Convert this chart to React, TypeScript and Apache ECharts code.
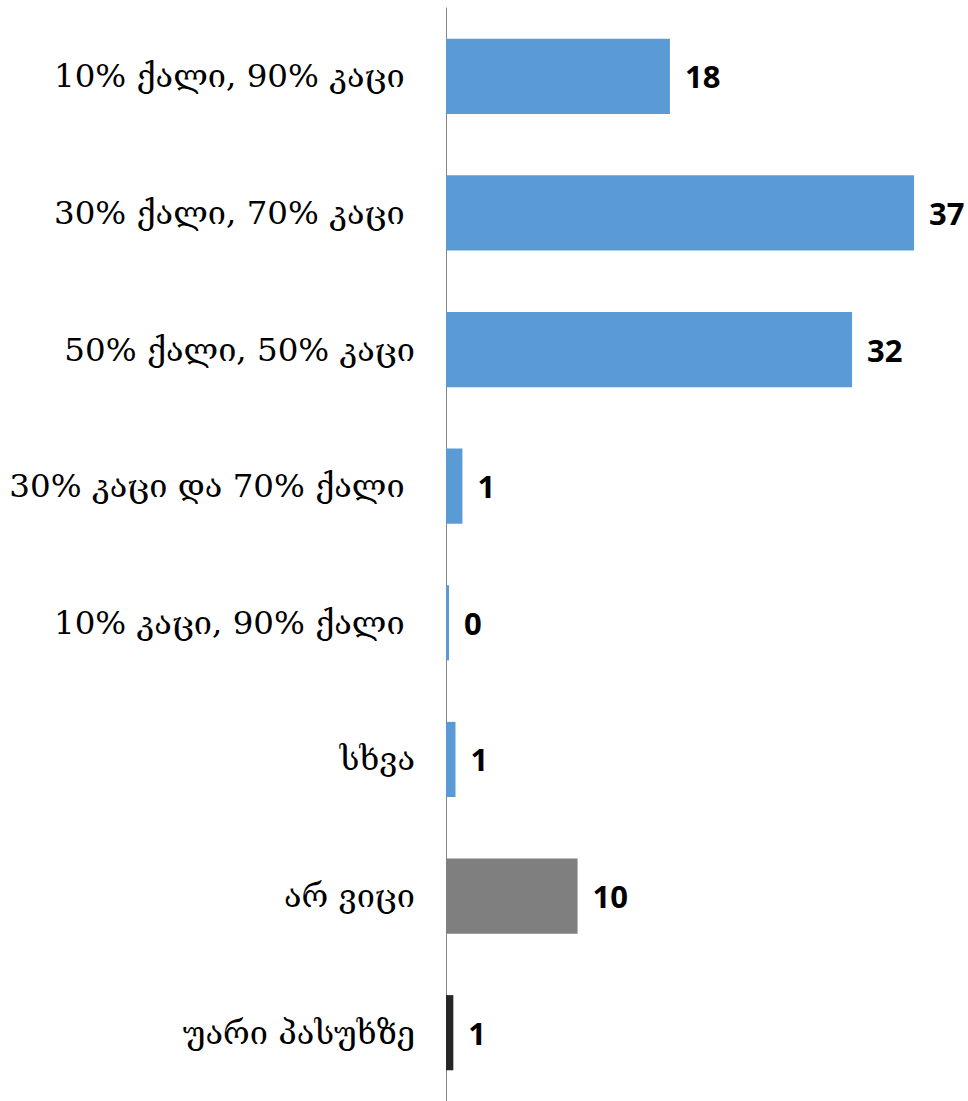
import React, { useEffect, useRef } from "react";
import * as echarts from "echarts";

const categories = [
  "10% ქალი, 90% კაცი ",
  "30% ქალი, 70% კაცი ",
  "50% ქალი, 50% კაცი",
  "30% კაცი და 70% ქალი ",
  "10% კაცი, 90% ქალი ",
  "სხვა",
  "არ ვიცი",
  "უარი პასუხზე",
];
const values = [17.7, 37.0, 32.1, 1.3, 0.24, 0.75, 10.4, 0.58];
const colors = ["#5B9BD5", "#5B9BD5", "#5B9BD5", "#5B9BD5", "#5B9BD5", "#5B9BD5", "#7F7F7F", "#262626"];

export default function App() {
  const ref = useRef<HTMLDivElement>(null);
  useEffect(() => {
    if (!ref.current) return;
    const chart = echarts.init(ref.current, null, { renderer: "svg" });
    chart.setOption({
      animation: false,
      grid: { left: 446, top: 8, width: 506, height: 1098 },
      xAxis: {
        type: "value",
        min: 0,
        max: 40,
        show: false,
      },
      yAxis: {
        type: "category",
        inverse: true,
        data: categories,
        axisLine: { show: true, lineStyle: { color: "#868686", width: 1 } },
        axisTick: { show: false },
        axisLabel: {
          margin: 31,
          color: "#000000",
          fontFamily: "DejaVu Serif",
          fontSize: 32.5,
        },
      },
      series: [
        {
          type: "bar",
          barCategoryGap: "45%",
          data: values.map((v, i) => ({ value: v, itemStyle: { color: colors[i] } })),
          label: {
            show: true,
            position: "right",
            distance: 15,
            color: "#000000",
            fontFamily: "Open Sans",
            fontWeight: "bold",
            fontSize: 31,
            formatter: (p: any) => String(Math.round(p.value)),
          },
        },
      ],
    });
    return () => chart.dispose();
  }, []);
  return (
    <div
      ref={ref}
      style={{ position: "absolute", top: 0, left: 0, width: 968, height: 1101 }}
    />
  );
}
